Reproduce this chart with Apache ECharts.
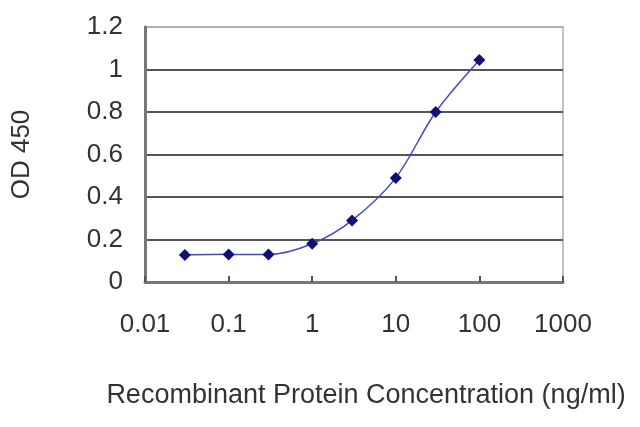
<!DOCTYPE html>
<html>
<head>
<meta charset="utf-8">
<script src="https://cdn.jsdelivr.net/npm/echarts@6/dist/echarts.min.js"></script>
<style>
  html, body { margin: 0; padding: 0; background: #fff; }
  #chart { width: 640px; height: 427px; }
</style>
</head>
<body>
<div id="chart"></div>
<script>
// 数据 - 读图估计
const concentration = [0.03, 0.1, 0.3, 1, 3, 10, 30, 100];
const od450 = [0.127, 0.13, 0.13, 0.18, 0.29, 0.49, 0.80, 1.045];
const xTickLabels = ['0.01', '0.1', '1', '10', '100', '1000'];

const fontFamily = '"Liberation Sans", Arial, sans-serif';

let myChart = echarts.init(document.getElementById('chart'));
myChart.setOption({
  animation: false,
  grid: {
    left: 145, right: 77, top: 27, bottom: 145,
    show: true, borderColor: '#b0b0b0', borderWidth: 1.5
  },
  xAxis: {
    type: 'log',
    logBase: 10,
    min: 0.01,
    max: 1000,
    name: 'Recombinant Protein Concentration (ng/ml)',
    nameLocation: 'middle',
    nameGap: 100,
    nameTextStyle: { fontSize: 27, color: '#333', fontFamily, padding: [0, 0, 0, 24] },
    axisLine: { lineStyle: { color: '#777', width: 3 } },
    axisTick: { show: true, inside: true, length: 6, lineStyle: { color: '#555', width: 2 } },
    splitLine: { show: false },
    axisLabel: {
      margin: 30,
      fontSize: 26,
      color: '#333',
      fontFamily,
      formatter: (v, i) => xTickLabels[i]
    }
  },
  yAxis: {
    type: 'value',
    min: 0,
    max: 1.2,
    interval: 0.2,
    name: 'OD 450',
    nameLocation: 'middle',
    nameRotate: 90,
    nameGap: 110,
    nameTextStyle: { fontSize: 26, color: '#333', fontFamily },
    axisLine: { show: true, lineStyle: { color: '#777', width: 3 } },
    axisTick: { show: false },
    splitLine: {
      lineStyle: {
        color: ['#555', '#555', '#555', '#555', '#555', '#555', '#b0b0b0'],
        width: 2
      }
    },
    axisLabel: { margin: 22, fontSize: 26, color: '#333', fontFamily }
  },
  series: [{
    type: 'line',
    data: concentration.map((c, i) => [c, od450[i]]),
    smooth: 0.3,
    symbol: 'diamond',
    symbolSize: 12,
    itemStyle: { color: '#10107a' },
    lineStyle: { color: '#4848c0', width: 1.5 }
  }]
});
</script>
</body>
</html>
